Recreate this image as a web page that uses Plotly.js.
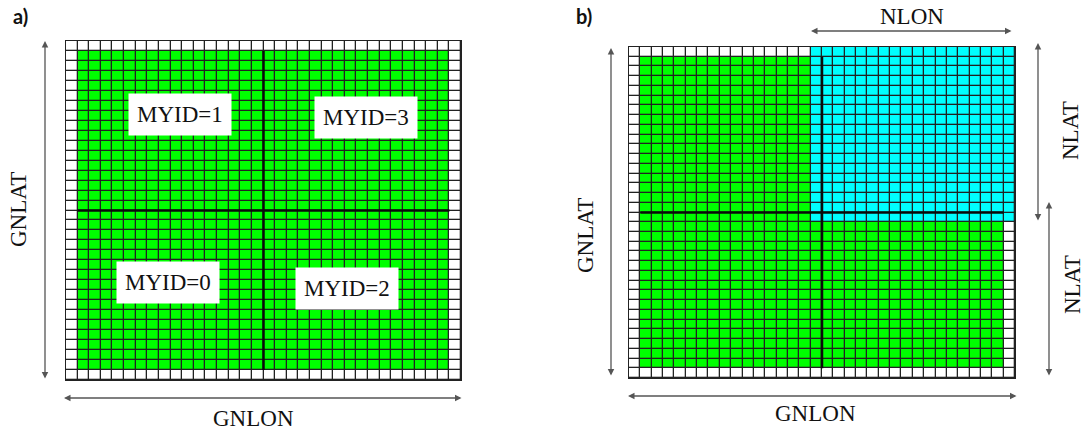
<!DOCTYPE html>
<html><head><meta charset="utf-8">
<script src="https://cdn.plot.ly/plotly-3.0.1.min.js"></script>
<style>html,body{margin:0;padding:0;background:#fff}#chart{width:1091px;height:430px}</style>
</head><body><div id="chart"></div>
<script>
// ---- data ----
const GNLON = 32;          // global interior columns
const GNLAT = 32;          // global interior rows
const HALO = 1;            // halo width
const NLON = 16;           // local columns per task
const NLAT = 16;           // local rows per task
const taskLabels = ['MYID=1', 'MYID=3', 'MYID=0', 'MYID=2'];
const taskCol = [9.3, 25.3, 8.3, 23.7];
const taskRow = [6.9, 7.2, 23.7, 24.3];

// ---- build grids ----
const NX = GNLON + 2 * HALO, NY = GNLAT + 2 * HALO;
const xs = Array.from({length: NX}, (_, i) => i);
const ys = Array.from({length: NY}, (_, i) => i);
function inside(r, c) { return r >= HALO && r < HALO + GNLAT && c >= HALO && c < HALO + GNLON; }
const zA = ys.map(r => xs.map(c => inside(r, c) ? 1 : 0));
const zB = ys.map(r => xs.map(c => {
  if (r < NLAT + 2 * HALO && c >= NX - (NLON + 2 * HALO)) return 2;
  return inside(r, c) ? 1 : 0;
}));

const W = 1091, H = 430;
const px = v => v / W, py = v => (H - v) / H;
const cs = [[0, '#ffffff'], [0.333, '#ffffff'], [0.334, '#00ff00'], [0.666, '#00ff00'], [0.667, '#00ffff'], [1, '#00ffff']];
function hm(z, xa, ya) {
  return {type: 'heatmap', z: z, x: xs, y: ys, xaxis: xa, yaxis: ya, colorscale: cs, zmin: 0, zmax: 2,
          showscale: false, xgap: 1.3, ygap: 1.3, hoverinfo: 'skip'};
}
const axBase = {showgrid: false, zeroline: false, showticklabels: false, ticks: '', showline: true, mirror: true,
                linecolor: '#222', linewidth: 1.3, fixedrange: true};

const midX = HALO + GNLON / 2 - 0.5, midY = HALO + GNLAT / 2 - 0.5;
const lo = HALO - 0.5, hiX = HALO + GNLON - 0.5, hiY = HALO + GNLAT - 0.5;
const shapes = [];
[['x', 'y'], ['x2', 'y2']].forEach(([xa, ya]) => {
  shapes.push({type: 'line', xref: xa, yref: ya, x0: midX, x1: midX, y0: lo, y1: hiY, line: {color: '#0a0a0a', width: 2.5}});
  shapes.push({type: 'line', xref: xa, yref: ya, x0: lo, x1: hiX, y0: midY, y1: midY, line: {color: '#0a0a0a', width: 2.5}});
});

function arrow(x0, y0, x1, y1) {
  return {xref: 'paper', yref: 'paper', x: px(x1), y: py(y1), axref: 'pixel', ayref: 'pixel',
          ax: x0 - x1, ay: y0 - y1, text: '', showarrow: true, arrowhead: 2, startarrowhead: 2,
          arrowside: 'end+start', arrowsize: 1, startarrowsize: 1, arrowwidth: 1.3, arrowcolor: '#555',
          standoff: 0, startstandoff: 0};
}
const serif = {family: 'Liberation Serif, Times New Roman, serif', size: 23, color: '#111'};
function label(x, y, t, rot) {
  return {xref: 'paper', yref: 'paper', x: px(x), y: py(y), text: t, showarrow: false, textangle: rot || 0,
          font: serif, xanchor: 'center', yanchor: 'middle'};
}
const annotations = [
  {xref: 'paper', yref: 'paper', x: px(11), y: py(16), text: '<b>a)</b>', showarrow: false, xanchor: 'left', yanchor: 'middle',
   font: {family: 'Lato, Open Sans, sans-serif', size: 20, color: '#111'}},
  {xref: 'paper', yref: 'paper', x: px(574), y: py(16), text: '<b>b)</b>', showarrow: false, xanchor: 'left', yanchor: 'middle',
   font: {family: 'Lato, Open Sans, sans-serif', size: 20, color: '#111'}},
  arrow(45, 380, 45, 41),
  arrow(463, 398, 64, 398),
  label(18, 210, 'GNLAT', -90),
  label(253, 418, 'GNLON'),
  arrow(611, 377, 611, 48),
  arrow(1018, 396, 628, 396),
  arrow(1013, 31, 811, 31),
  arrow(1038, 222, 1038, 43),
  arrow(1049, 377, 1049, 202),
  label(585, 235, 'GNLAT', -90),
  label(815, 413, 'GNLON'),
  label(912, 16, 'NLON'),
  label(1070, 131, 'NLAT', -90),
  label(1072, 285, 'NLAT', -90)
];
taskLabels.forEach((t, i) => {
  annotations.push({xref: 'x', yref: 'y', x: taskCol[i], y: taskRow[i], text: t, showarrow: false,
    font: serif, bgcolor: '#ffffff', borderpad: 8, xanchor: 'center', yanchor: 'middle'});
});

const layout = {
  width: W, height: H, margin: {l: 0, r: 0, t: 0, b: 0}, paper_bgcolor: '#fff', plot_bgcolor: '#222',
  showlegend: false,
  xaxis: Object.assign({}, axBase, {domain: [px(66), px(461)], range: [-0.5, NX - 0.5]}),
  yaxis: Object.assign({}, axBase, {domain: [py(380), py(41)], range: [NY - 0.5, -0.5]}),
  xaxis2: Object.assign({}, axBase, {domain: [px(629), px(1015)], range: [-0.5, NX - 0.5], anchor: 'y2'}),
  yaxis2: Object.assign({}, axBase, {domain: [py(378), py(47)], range: [NY - 0.5, -0.5], anchor: 'x2'}),
  shapes: shapes, annotations: annotations
};
Plotly.newPlot('chart', [hm(zA, 'x', 'y'), hm(zB, 'x2', 'y2')], layout, {staticPlot: true, displayModeBar: false});
</script></body></html>
